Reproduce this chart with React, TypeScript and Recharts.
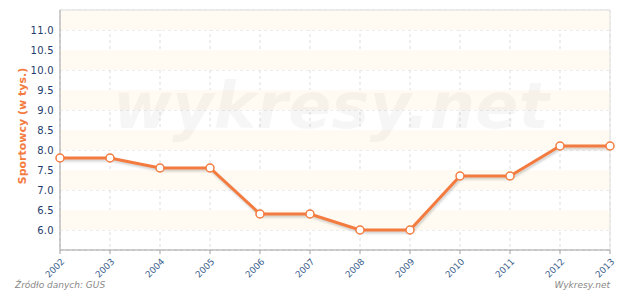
import React from 'react';
import { LineChart, Line, XAxis, YAxis, CartesianGrid, ReferenceArea, ReferenceLine } from 'recharts';

const years = ['2002','2003','2004','2005','2006','2007','2008','2009','2010','2011','2012','2013'];
const athletes = [7.8, 7.8, 7.55, 7.55, 6.4, 6.4, 6.0, 6.0, 7.35, 7.35, 8.1, 8.1];
const yTicks = [6.0, 6.5, 7.0, 7.5, 8.0, 8.5, 9.0, 9.5, 10.0, 10.5, 11.0];
const yDomain = [5.5, 11.5];
const bands = [[6.0, 6.5], [7.0, 7.5], [8.0, 8.5], [9.0, 9.5], [10.0, 10.5], [11.0, 11.5]];

const data = years.map((y, i) => ({ year: y, value: athletes[i] }));

const FONT = '"DejaVu Sans", Verdana, sans-serif';
const ORANGE = '#f47b3f';

const XTick = (props: any) => {
  const { x, y, payload } = props;
  const tx = x + 3;
  const ty = y + 4;
  return (
    <text x={tx} y={ty} transform={`rotate(-45, ${tx}, ${ty})`} textAnchor="end" dominantBaseline="central"
      fontSize={9} fill="#3d5f8c" fontFamily={FONT}>
      {payload.value}
    </text>
  );
};

const YLabel = () => (
  <text x={22} y={126} transform="rotate(-90, 22, 126)" textAnchor="middle" dominantBaseline="central"
    fontSize={11} fontWeight="bold" fill={ORANGE} fontFamily={FONT}>
    Sportowcy (w tys.)
  </text>
);

export default function App() {
  return (
    <div style={{ position: 'absolute', left: 0, top: 0, width: 620, height: 292, background: '#fff', fontFamily: FONT }}>
      <style>{`.recharts-line-curve { filter: drop-shadow(1px 2px 1px rgba(0,0,0,0.18)); }`}</style>
      <LineChart width={620} height={292} data={data} margin={{ top: 10, right: 10, bottom: 0, left: 0 }}>
        {bands.map((b, i) => (
          <ReferenceArea key={i} y1={b[0]} y2={b[1]} fill="#fffbf2" fillOpacity={1} stroke="none" ifOverflow="hidden" />
        ))}
        <CartesianGrid stroke="#dddddd" strokeDasharray="3 3" />
        <ReferenceLine y={11.5} stroke="#dddddd" strokeWidth={1} />
        <ReferenceLine x="2013" stroke="#dddddd" strokeWidth={1} />
        <XAxis dataKey="year" tick={<XTick />} interval={0} axisLine={{ stroke: '#a0a0a0' }} height={42}
          tickLine={{ stroke: '#a0a0a0' }} tickSize={4} padding={{ left: 0, right: 0 }} />
        <YAxis width={60} domain={yDomain} ticks={yTicks} type="number" allowDataOverflow
          tickFormatter={(v: number) => v.toFixed(1)} tickLine={false} axisLine={{ stroke: '#a0a0a0' }}
          tick={{ fontSize: 10, fill: '#1f3d6b', fontFamily: FONT, letterSpacing: 0.3 }} tickMargin={0}
          label={<YLabel />} />
        <Line type="linear" dataKey="value" stroke={ORANGE} strokeWidth={3} isAnimationActive={false}
          dot={{ r: 4, fill: '#ffffff', stroke: ORANGE, strokeWidth: 1.5 }} activeDot={false} />
      </LineChart>
      <div style={{ position: 'absolute', left: 0, top: 68, width: 662, textAlign: 'center', fontSize: 64,
        fontWeight: 'bold', fontStyle: 'italic', color: 'rgba(0,0,0,0.035)', pointerEvents: 'none',
        fontFamily: FONT, lineHeight: '76px' }}>
        wykresy.net
      </div>
      <div style={{ position: 'absolute', left: 15, top: 280, fontSize: 9, fontStyle: 'italic', color: '#888' }}>
        Źródło danych: GUS
      </div>
      <div style={{ position: 'absolute', right: 10, top: 280, fontSize: 9, fontStyle: 'italic', color: '#888' }}>
        Wykresy.net
      </div>
    </div>
  );
}
